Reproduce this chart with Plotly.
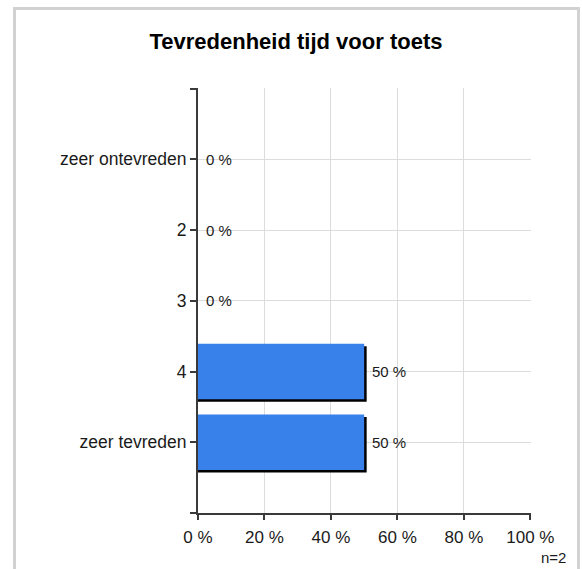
import plotly.graph_objects as go

# ---- data ----
categories = ["zeer ontevreden", "2", "3", "4", "zeer tevreden"]
percentages = [0, 0, 0, 50, 50]
x_tick_values = [0, 20, 40, 60, 80, 100]
x_tick_labels = ["0 %", "20 %", "40 %", "60 %", "80 %", "100 %"]
title_text = "Tevredenheid tijd voor toets"
n_text = "n=2"

# ---- layout constants (pixels) ----
W, H = 582, 569
ML, MR, MT, MB = 198, 51, 88, 56
PW, PH = W - ML - MR, H - MT - MB
FONT = "Liberation Sans, Arial, sans-serif"
BAR_COLOR = "#3880EA"
AXIS_COLOR = "#3a3a3a"
GRID_COLOR = "#dcdcdc"
TEXT_COLOR = "#1a1a1a"

positions = list(range(len(categories)))
bar_width = 0.785
slot_px = PH / (len(categories) + 1)
shadow_dx = 2.5 / PW * 100          # in % units
shadow_dy = 2.5 / slot_px           # in category units

def px_x(p):
    return (p - ML) / PW

def px_y(p):
    return (H - MB - p) / PH

fig = go.Figure()

# shadow
fig.add_trace(go.Bar(
    x=[v + shadow_dx if v > 0 else 0 for v in percentages],
    y=positions,
    orientation="h",
    width=bar_width,
    offset=-bar_width / 2 + shadow_dy,
    marker=dict(color="#000000", line=dict(width=0)),
    hoverinfo="skip",
    showlegend=False,
))
# bars
fig.add_trace(go.Bar(
    x=percentages,
    y=positions,
    orientation="h",
    width=bar_width,
    offset=-bar_width / 2,
    marker=dict(color=BAR_COLOR, line=dict(width=0)),
    showlegend=False,
))

annotations = []
for pos, v in zip(positions, percentages):
    annotations.append(dict(
        x=v, y=pos, xref="x", yref="y",
        text=f"{v} %", showarrow=False,
        xanchor="left", yanchor="middle", xshift=6,
        font=dict(family=FONT, size=15, color=TEXT_COLOR),
    ))
annotations.append(dict(
    x=px_x(568), y=px_y(557), xref="paper", yref="paper",
    text=n_text, showarrow=False, xanchor="right", yanchor="middle",
    font=dict(family=FONT, size=15, color=TEXT_COLOR),
))

fig.update_layout(
    width=W, height=H,
    margin=dict(l=ML, r=MR, t=MT, b=MB),
    paper_bgcolor="white",
    plot_bgcolor="white",
    barmode="overlay",
    title=dict(
        text=f"<b>{title_text}</b>",
        x=296 / W, xref="container", xanchor="center",
        y=1 - 41 / H, yref="container", yanchor="middle",
        font=dict(family=FONT, size=22, color="#000000"),
    ),
    xaxis=dict(
        range=[0, 100.2],
        tickvals=x_tick_values,
        ticktext=x_tick_labels,
        showgrid=True, gridcolor=GRID_COLOR, gridwidth=1,
        showline=True, linecolor=AXIS_COLOR, linewidth=2,
        ticks="outside", ticklen=5, tickcolor=AXIS_COLOR, tickwidth=1.5,
        ticklabelstandoff=3,
        tickfont=dict(family=FONT, size=17, color=TEXT_COLOR),
        zeroline=False, fixedrange=True,
    ),
    yaxis=dict(
        range=[len(categories), -1.008],
        tickvals=[-1] + positions + [len(categories)],
        ticktext=[""] + categories + [""],
        showgrid=True, gridcolor=GRID_COLOR, gridwidth=1,
        showline=True, linecolor=AXIS_COLOR, linewidth=2,
        ticks="outside", ticklen=6, tickcolor=AXIS_COLOR, tickwidth=1.5,
        tickfont=dict(family=FONT, size=17.5, color=TEXT_COLOR),
        zeroline=False, fixedrange=True,
    ),
    annotations=annotations,
    shapes=[dict(
        type="rect", xref="paper", yref="paper",
        x0=px_x(14.5), x1=px_x(578.5), y0=px_y(585), y1=px_y(8.5),
        line=dict(color="#d2d2d2", width=3), fillcolor="rgba(0,0,0,0)",
        layer="below",
    )],
)

fig.write_html(
    "out.html",
    config={"displayModeBar": False},
    post_script="document.body.style.margin='0';document.body.style.overflow='hidden';",
)
